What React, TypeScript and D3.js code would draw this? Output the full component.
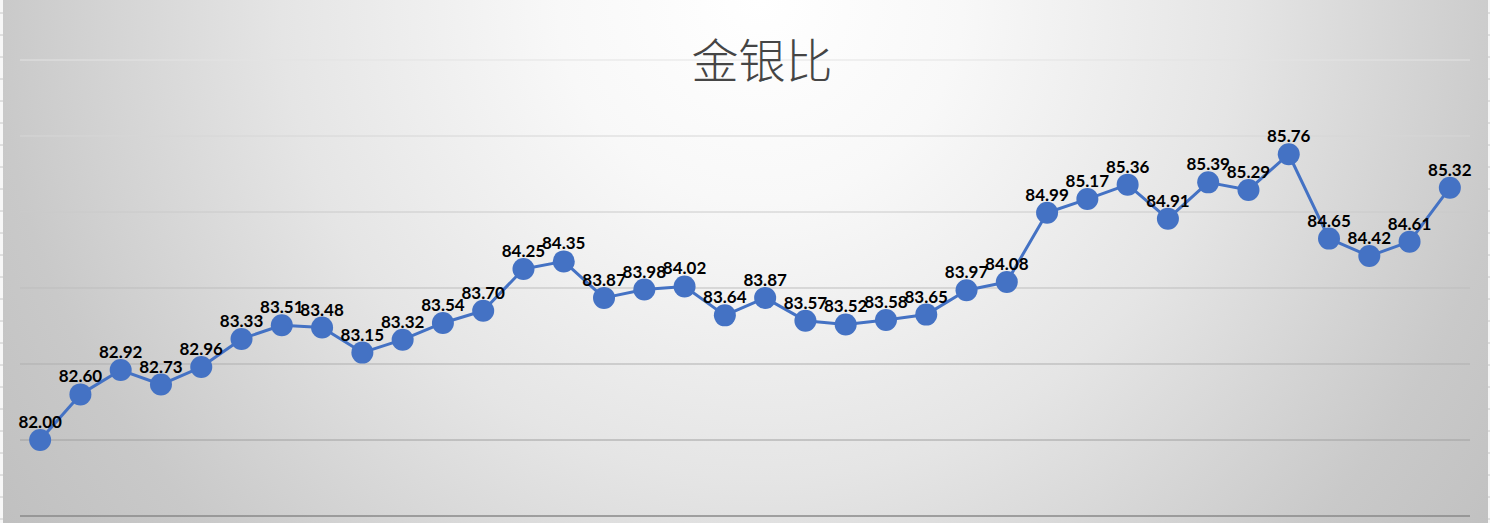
import React from "react";
import * as d3 from "d3";

const title = "金银比";
const categories: number[] = Array.from({ length: 36 }, (_, i) => i + 1);
const ratios: number[] = [
  82.0, 82.6, 82.92, 82.73, 82.96, 83.33, 83.51, 83.48, 83.15, 83.32, 83.54, 83.7,
  84.25, 84.35, 83.87, 83.98, 84.02, 83.64, 83.87, 83.57, 83.52, 83.58, 83.65, 83.97,
  84.08, 84.99, 85.17, 85.36, 84.91, 85.39, 85.29, 85.76, 84.65, 84.42, 84.61, 85.32,
];
const gridValues: number[] = [81, 82, 83, 84, 85, 86, 87];

const W = 1490;
const H = 523;

export default function App() {
  const x = d3
    .scaleBand<number>()
    .domain(categories)
    .range([20, 1470]);
  const y = d3.scaleLinear().domain([81, 87]).range([516, 60]);
  const cx = (c: number) => (x(c) as number) + x.bandwidth() / 2;

  const line = d3
    .line<number>()
    .x((_, i) => cx(categories[i]))
    .y((d) => y(d));

  const gridColor = d3
    .scaleLinear<string>()
    .domain([60, 288, 440, 516])
    .range(["#e3e3e3", "#bdbdbd", "#a0a0a0", "#888888"])
    .interpolate(d3.interpolateRgb);

  const stripTicks = d3.range(13, H, 22);

  return (
    <svg
      width={W}
      height={H}
      style={{ position: "absolute", left: 0, top: 0 }}
      xmlns="http://www.w3.org/2000/svg"
    >
      <defs>
        <radialGradient
          id="bg"
          gradientUnits="userSpaceOnUse"
          cx={760}
          cy={0}
          r={920}
          fx={760}
          fy={0}
        >
          <stop offset="0" stopColor="#ffffff" />
          <stop offset="0.22" stopColor="#f8f8f8" />
          <stop offset="0.52" stopColor="#e5e5e5" />
          <stop offset="0.83" stopColor="#c9c9c9" />
          <stop offset="1" stopColor="#c0c0c0" />
        </radialGradient>
      </defs>
      <rect x={0} y={0} width={W} height={H} fill="#f7f7f7" />
      {stripTicks.map((t) => (
        <g key={t}>
          <line x1={0} x2={3} y1={t} y2={t} stroke="#c8c8c8" strokeWidth={1} />
          <line x1={1487} x2={1490} y1={t} y2={t} stroke="#c8c8c8" strokeWidth={1} />
        </g>
      ))}
      <rect x={3} y={0} width={1485} height={H} fill="url(#bg)" />
      {gridValues.map((v) => (
        <line
          key={v}
          x1={20}
          x2={1470}
          y1={y(v)}
          y2={y(v)}
          stroke={gridColor(y(v))}
          strokeWidth={v === 81 ? 1.5 : 1}
        />
      ))}
      <text
        x={762}
        y={78}
        textAnchor="middle"
        fontFamily="'Noto Sans CJK SC', sans-serif"
        fontWeight={300}
        fontSize={47}
        fill="#454545"
      >
        {title}
      </text>
      <path
        d={line(ratios) || ""}
        fill="none"
        stroke="#4472C4"
        strokeWidth={3}
        strokeLinejoin="round"
      />
      {ratios.map((v, i) => (
        <circle key={i} cx={cx(categories[i])} cy={y(v)} r={11} fill="#4472C4" />
      ))}
      {ratios.map((v, i) => (
        <text
          key={"l" + i}
          x={cx(categories[i])}
          y={y(v) - 12}
          textAnchor="middle"
          fontFamily="Lato, 'Open Sans', sans-serif"
          fontWeight={700}
          fontSize={17}
          fill="#000000"
        >
          {v.toFixed(2)}
        </text>
      ))}
    </svg>
  );
}
